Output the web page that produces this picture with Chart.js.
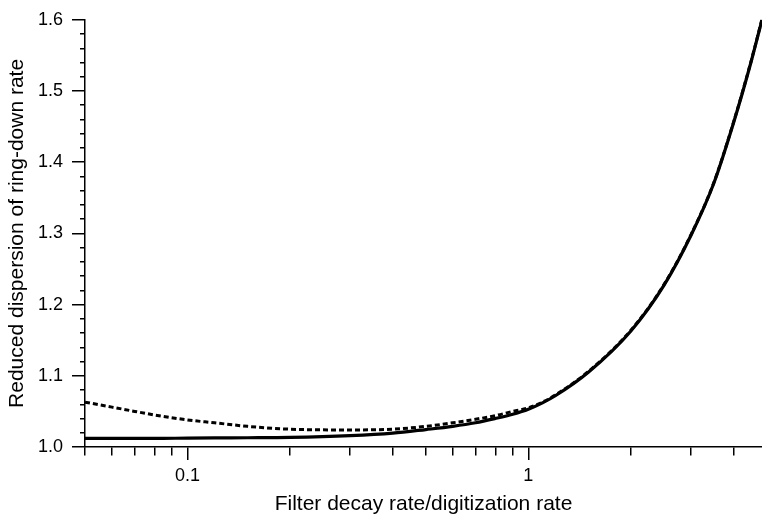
<!DOCTYPE html>
<html>
<head>
<meta charset="utf-8">
<script src="https://cdn.jsdelivr.net/npm/chart.js@4"></script>
<style>
  html, body { margin: 0; padding: 0; background: #fff; }
  #wrap { width: 762px; height: 519px; position: relative; }
</style>
</head>
<body>
<div id="wrap"><canvas id="chart"></canvas></div>
<script>
// Valori
const filterRatio = [0.05, 0.06, 0.07, 0.08, 0.1, 0.12, 0.15, 0.2, 0.3, 0.4, 0.5, 0.6, 0.7, 0.8, 0.9, 1.0, 1.1, 1.2, 1.5, 2, 2.5, 3, 3.5, 4, 4.5, 4.85];
const solidValues = [1.012, 1.012, 1.012, 1.012, 1.0125, 1.0128, 1.013, 1.0135, 1.016, 1.0195, 1.0245, 1.029, 1.034, 1.040, 1.046, 1.053, 1.062, 1.072, 1.105, 1.163, 1.227, 1.297, 1.37, 1.455, 1.54, 1.60];
const dashedValues = [1.063, 1.056, 1.050, 1.045, 1.038, 1.034, 1.029, 1.025, 1.024, 1.025, 1.029, 1.034, 1.039, 1.044, 1.050, 1.055, 1.063, 1.073, 1.106, 1.164, 1.228, 1.298, 1.371, 1.456, 1.541, 1.601];

// Tacche degli assi
const xMajorTicks = [0.1, 1];
const xMinorTicks = [0.05, 0.06, 0.07, 0.08, 0.09, 0.2, 0.3, 0.4, 0.5, 0.6, 0.7, 0.8, 0.9, 2, 3, 4];
const yMajorTicks = [1.0, 1.1, 1.2, 1.3, 1.4, 1.5, 1.6];
const yMinorTicks = [1.02, 1.04, 1.06, 1.08, 1.12, 1.14, 1.16, 1.18, 1.22, 1.24, 1.26, 1.28,
                     1.32, 1.34, 1.36, 1.38, 1.42, 1.44, 1.46, 1.48, 1.52, 1.54, 1.56, 1.58];

const FONT = "'Liberation Sans', Arial, sans-serif";

function isMajor(list, v) {
    return list.some(m => Math.abs(m - v) < 1e-9);
}

function toPoints(xs, ys) {
    return xs.map((x, i) => ({ x: x, y: ys[i] }));
}

const ctx = document.getElementById('chart').getContext('2d');

new Chart(ctx, {
    type: 'line',
    data: {
        datasets: [
            {
                label: 'dashed',
                data: toPoints(filterRatio, dashedValues),
                borderColor: '#000',
                borderWidth: 3,
                borderDash: [5, 3],
                pointRadius: 0,
                cubicInterpolationMode: 'monotone',
                fill: false
            },
            {
                label: 'solid',
                data: toPoints(filterRatio, solidValues),
                borderColor: '#000',
                borderWidth: 3.2,
                pointRadius: 0,
                cubicInterpolationMode: 'monotone',
                fill: false
            }
        ]
    },
    options: {
        responsive: true,
        maintainAspectRatio: false,
        animation: false,
        layout: { padding: { top: 13, right: 0, left: 0, bottom: 0 } },
        plugins: {
            legend: { display: false },
            tooltip: { enabled: false }
        },
        scales: {
            x: {
                type: 'logarithmic',
                min: 0.05,
                max: 4.85,
                afterBuildTicks: (scale) => {
                    scale.ticks = xMinorTicks.concat(xMajorTicks)
                        .sort((a, b) => a - b)
                        .map(v => ({ value: v, major: isMajor(xMajorTicks, v) }));
                },
                afterFit: (scale) => { scale.height = 72; },
                border: { display: true, color: '#000', width: 1.5 },
                grid: {
                    drawOnChartArea: false,
                    drawTicks: true,
                    tickLength: 13,
                    color: '#000',
                    lineWidth: 1.5,
                    tickBorderDash: (c) => (c.tick && isMajor(xMajorTicks, c.tick.value)) ? [] : [8, 100]
                },
                ticks: {
                    autoSkip: false,
                    maxRotation: 0,
                    padding: 5,
                    color: '#000',
                    font: { family: FONT, size: 18 },
                    callback: (v) => isMajor(xMajorTicks, v) ? String(v) : ''
                },
                title: {
                    display: true,
                    text: 'Filter decay rate/digitization rate',
                    color: '#000',
                    font: { family: FONT, size: 21 },
                    padding: { top: 0, bottom: 2 }
                }
            },
            y: {
                type: 'linear',
                min: 1.0,
                max: 1.6,
                afterBuildTicks: (scale) => {
                    scale.ticks = yMinorTicks.concat(yMajorTicks)
                        .sort((a, b) => a - b)
                        .map(v => ({ value: v, major: isMajor(yMajorTicks, v) }));
                },
                afterFit: (scale) => { scale.width = 85; },
                border: { display: true, color: '#000', width: 1.5 },
                grid: {
                    drawOnChartArea: false,
                    drawTicks: true,
                    tickLength: 13,
                    color: '#000',
                    lineWidth: 1.5,
                    tickBorderDash: (c) => (c.tick && isMajor(yMajorTicks, c.tick.value)) ? [] : [0, 8, 6, 100]
                },
                ticks: {
                    autoSkip: false,
                    padding: 9,
                    color: '#000',
                    font: { family: FONT, size: 18 },
                    callback: (v) => isMajor(yMajorTicks, v) ? v.toFixed(1) : ''
                },
                title: {
                    display: true,
                    text: 'Reduced dispersion of ring-down rate',
                    color: '#000',
                    font: { family: FONT, size: 21 },
                    padding: { top: 5, bottom: 0 }
                }
            }
        }
    }
});
</script>
</body>
</html>
